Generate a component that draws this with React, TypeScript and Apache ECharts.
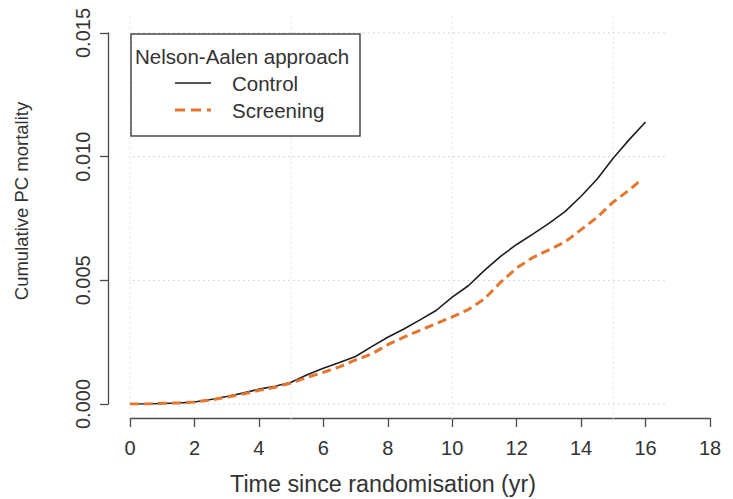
import { useEffect, useRef } from "react";
import * as echarts from "echarts";

// ---- data ----
const controlYears = [0, 0.5, 1, 1.5, 2, 2.5, 3, 3.5, 4, 4.5, 5, 5.5, 6, 6.5, 7, 7.5, 8, 8.5, 9, 9.5, 10, 10.5, 11, 11.5, 12, 12.5, 13, 13.5, 14, 14.5, 15, 15.5, 16];
const controlValues = [0, 0.0, 0.00002, 0.00004, 0.00008, 0.00018, 0.0003, 0.00044, 0.0006, 0.00072, 0.00088, 0.00118, 0.00145, 0.00168, 0.00192, 0.00232, 0.0027, 0.00303, 0.0034, 0.00378, 0.00432, 0.00478, 0.0054, 0.00597, 0.00645, 0.00687, 0.0073, 0.00778, 0.0084, 0.0091, 0.00995, 0.0107, 0.0114];

const screeningYears = [0, 0.5, 1, 1.5, 2, 2.5, 3, 3.5, 4, 4.5, 5, 5.5, 6, 6.5, 7, 7.5, 8, 8.5, 9, 9.5, 10, 10.5, 11, 11.5, 12, 12.5, 13, 13.5, 14, 14.5, 15, 15.5, 15.86];
const screeningValues = [0, 0.0, 0.00003, 0.00004, 0.00008, 0.00016, 0.00028, 0.0004, 0.00055, 0.00068, 0.00085, 0.00108, 0.00128, 0.0015, 0.00178, 0.00202, 0.0024, 0.0027, 0.00298, 0.00325, 0.00352, 0.00382, 0.00425, 0.00492, 0.0055, 0.00592, 0.00623, 0.00655, 0.00705, 0.00755, 0.00817, 0.00866, 0.00906];

const xTickMin = 0;
const xTickMax = 18;
const xTickStep = 2;
const yTickMin = 0;
const yTickMax = 0.015;
const yTickStep = 0.005;

// reference grid lines
const gridXValues = [0, 5, 10, 15];
const gridYValues = [0, 0.005, 0.01, 0.015];
const gridHRange = [-0.53, 16.6];
const gridVRange = [-0.0006, 0.0158];

const seriesNames = ["Control", "Screening"];
const legendTitle = "Nelson-Aalen approach";
const xTitle = "Time since randomisation (yr)";
const yTitle = "Cumulative PC mortality";

const FONT = "'Liberation Sans', Arial, Helvetica, sans-serif";

export default function App() {
  const ref = useRef<HTMLDivElement>(null);

  useEffect(() => {
    if (!ref.current) return;
    const chart = echarts.init(ref.current, undefined, { renderer: "svg" });

    const gridStyle = { color: "#d4d4d4", width: 1, type: [2, 3] as any };
    const gridSeries: any[] = [];
    gridYValues.forEach((v) => {
      gridSeries.push({
        type: "line",
        data: [[gridHRange[0], v], [gridHRange[1], v]],
        showSymbol: false,
        silent: true,
        clip: false,
        lineStyle: gridStyle,
        z: 1,
      });
    });
    gridXValues.forEach((t) => {
      gridSeries.push({
        type: "line",
        data: [[t, gridVRange[0]], [t, gridVRange[1]]],
        showSymbol: false,
        silent: true,
        clip: false,
        lineStyle: { ...gridStyle, color: "#e2e2e2" },
        z: 1,
      });
    });

    const option: any = {
      animation: false,
      backgroundColor: "#ffffff",
      textStyle: { fontFamily: FONT },
      grid: { left: 130, right: 23, top: 33, bottom: 95, containLabel: false },
      xAxis: {
        type: "value",
        min: xTickMin,
        max: xTickMax,
        interval: xTickStep,
        offset: 14,
        axisLine: { show: true, onZero: false, lineStyle: { color: "#4a4a4a", width: 1.3 } },
        axisTick: { show: true, length: 9, lineStyle: { color: "#4a4a4a", width: 1.3 } },
        axisLabel: { fontSize: 20, color: "#333", margin: 20, fontFamily: FONT },
        splitLine: { show: false },
      },
      yAxis: {
        type: "value",
        min: yTickMin,
        max: yTickMax,
        interval: yTickStep,
        offset: 22,
        axisLine: { show: true, onZero: false, lineStyle: { color: "#4a4a4a", width: 1.3 } },
        axisTick: { show: true, length: 8, lineStyle: { color: "#4a4a4a", width: 1.3 } },
        axisLabel: {
          fontSize: 20,
          color: "#333",
          rotate: 90,
          margin: 15,
          fontFamily: FONT,
          formatter: (v: number) => v.toFixed(3),
        },
        splitLine: { show: false },
      },
      series: [
        ...gridSeries,
        {
          name: seriesNames[0],
          type: "line",
          data: controlYears.map((t, i) => [t, controlValues[i]]),
          showSymbol: false,
          silent: true,
          lineStyle: { color: "#1e1e1e", width: 1.6 },
          z: 3,
        },
        {
          name: seriesNames[1],
          type: "line",
          data: screeningYears.map((t, i) => [t, screeningValues[i]]),
          showSymbol: false,
          silent: true,
          lineStyle: { color: "#E5762F", width: 3, type: [9, 5] },
          z: 4,
        },
      ],
      graphic: [
        {
          type: "text",
          x: 383,
          y: 484,
          style: {
            text: xTitle,
            fontSize: 23.3,
            fontFamily: FONT,
            fill: "#333",
            align: "center",
            verticalAlign: "middle",
          },
        },
        {
          type: "text",
          x: 21,
          y: 201,
          rotation: Math.PI / 2,
          style: {
            text: yTitle,
            fontSize: 18.5,
            fontFamily: FONT,
            fill: "#333",
            align: "center",
            verticalAlign: "middle",
          },
        },
        {
          type: "rect",
          shape: { x: 131, y: 34, width: 229, height: 102 },
          style: { fill: "#fff", stroke: "#4a4a4a", lineWidth: 1.5 },
          z: 10,
        },
        {
          type: "text",
          x: 135,
          y: 56,
          z: 11,
          style: {
            text: legendTitle,
            fontSize: 20.5,
            fontFamily: FONT,
            fill: "#333",
            align: "left",
            verticalAlign: "middle",
          },
        },
        {
          type: "line",
          z: 11,
          shape: { x1: 175, y1: 83, x2: 211, y2: 83 },
          style: { stroke: "#1e1e1e", lineWidth: 1.6 },
        },
        {
          type: "line",
          z: 11,
          shape: { x1: 175, y1: 110, x2: 211, y2: 110 },
          style: { stroke: "#E5762F", lineWidth: 3, lineDash: [10, 6] },
        },
        {
          type: "text",
          x: 232,
          y: 83,
          z: 11,
          style: {
            text: seriesNames[0],
            fontSize: 20.5,
            fontFamily: FONT,
            fill: "#333",
            align: "left",
            verticalAlign: "middle",
          },
        },
        {
          type: "text",
          x: 232,
          y: 110,
          z: 11,
          style: {
            text: seriesNames[1],
            fontSize: 20.5,
            fontFamily: FONT,
            fill: "#333",
            align: "left",
            verticalAlign: "middle",
          },
        },
      ],
    };

    chart.setOption(option);
    return () => chart.dispose();
  }, []);

  return <div ref={ref} style={{ width: 733, height: 499, position: "absolute", left: 0, top: 0 }} />;
}
